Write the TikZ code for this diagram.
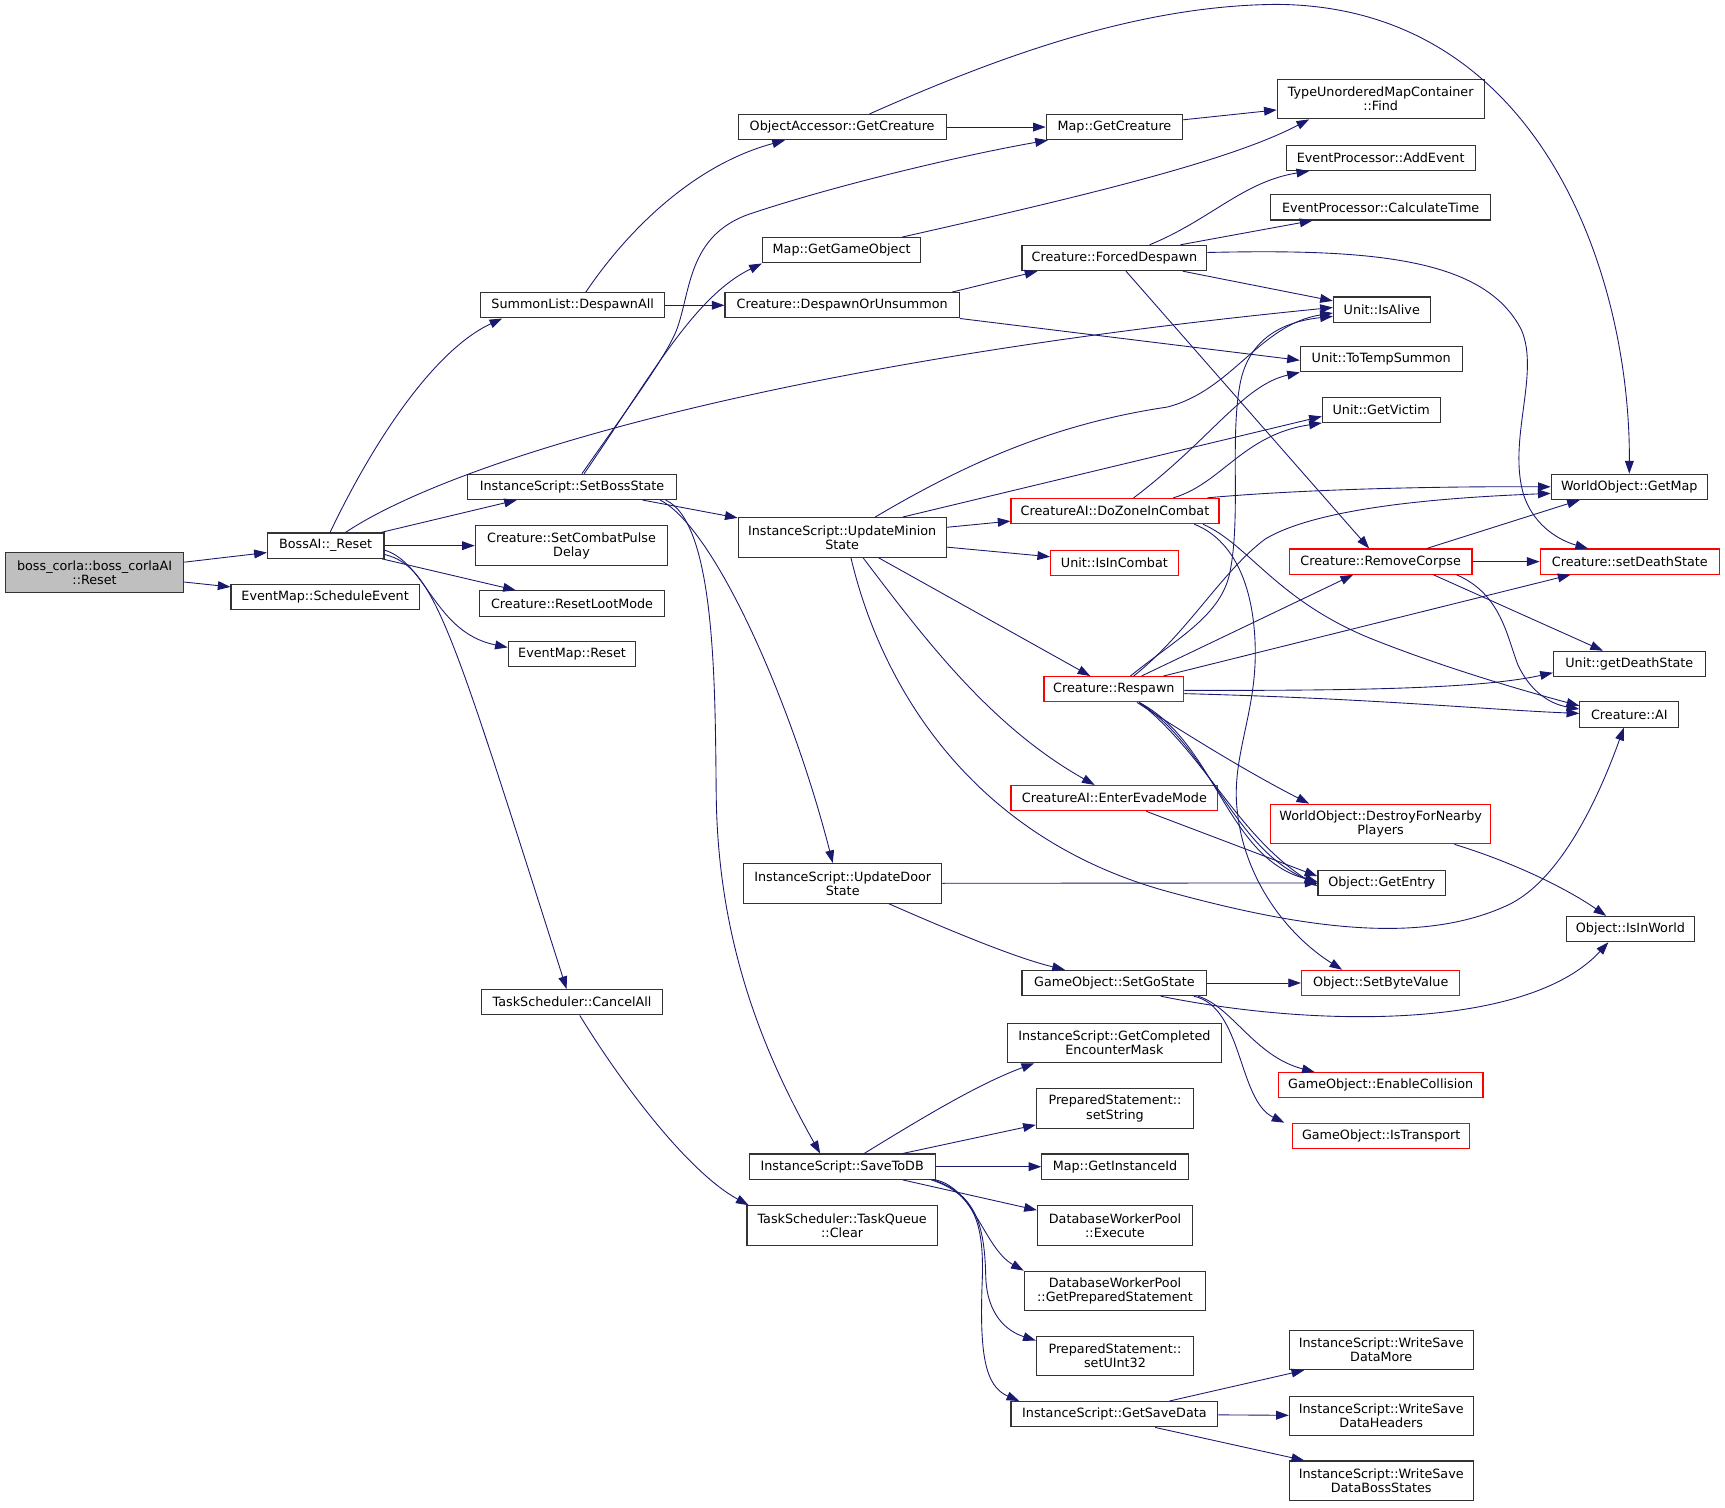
\documentclass[tikz,border=0pt]{standalone}
\usepackage{fontspec}
\newfontfamily\dvsans{DejaVu Sans}
\usetikzlibrary{arrows.meta}
\definecolor{navy}{HTML}{191970}
\definecolor{hotred}{HTML}{FF0000}
\begin{document}
\begin{tikzpicture}[x=1pt,y=-1pt,
  >={Triangle[length=11.5pt,width=8pt]},
  fn/.style={draw=black!80,line width=1pt,fill=white,inner sep=0pt,minimum height=23pt,
    align=center,font=\dvsans\fontsize{11.6}{13}\selectfont},
  fntwo/.style={fn,minimum height=36pt},
  hot/.style={draw=hotred},
  root/.style={fill=black!25},
  call/.style={->,draw=navy,line width=0.8pt}]
\useasboundingbox (0,0) rectangle (1568,1370);

% column 0 and 1
\node[fntwo,root,minimum width=162pt] (boss) at (86,520.5) {boss\_corla::boss\_corlaAI\\::Reset};
\node[fn,minimum width=106pt] (bossreset) at (296,496) {BossAI::\_Reset};
\node[fn,minimum width=171pt] (schedev) at (295.5,542.5) {EventMap::ScheduleEvent};
% column 2
\node[fn,minimum width=167pt] (despawnall) at (520.5,277.5) {SummonList::DespawnAll};
\node[fn,minimum width=190pt] (setboss) at (520,442.5) {InstanceScript::SetBossState};
\node[fntwo,minimum width=175pt] (combatpulse) at (519.5,496) {Creature::SetCombatPulse\\Delay};
\node[fn,minimum width=168pt] (lootmode) at (520,548.5) {Creature::ResetLootMode};
\node[fn,minimum width=116pt] (emreset) at (520,594.5) {EventMap::Reset};
\node[fn,minimum width=164pt] (cancelall) at (520,911) {TaskScheduler::CancelAll};
% column 3
\node[fn,minimum width=189pt] (objgetcreature) at (765.5,115.5) {ObjectAccessor::GetCreature};
\node[fn,minimum width=144pt] (getgameobject) at (765,227.5) {Map::GetGameObject};
\node[fn,minimum width=213pt] (despawnorunsummon) at (765.5,277.5) {Creature::DespawnOrUnsummon};
\node[fntwo,minimum width=189pt] (updminion) at (765.5,488.5) {InstanceScript::UpdateMinion\\State};
\node[fntwo,minimum width=180pt] (upddoor) at (766,803) {InstanceScript::UpdateDoor\\State};
\node[fn,minimum width=169pt] (savetodb) at (765.5,1060.5) {InstanceScript::SaveToDB};
\node[fntwo,minimum width=173pt] (taskqueueclear) at (765.5,1114) {TaskScheduler::TaskQueue\\::Clear};
% column 4
\node[fn,minimum width=124pt] (mapgetcreature) at (1013,115.5) {Map::GetCreature};
\node[fn,minimum width=168pt] (forceddespawn) at (1013,234.5) {Creature::ForcedDespawn};
\node[fn,hot,minimum width=189pt] (dozone) at (1013.5,464.5) {CreatureAI::DoZoneInCombat};
\node[fn,hot,minimum width=116pt] (isincombat) at (1013,511.5) {Unit::IsInCombat};
\node[fn,hot,minimum width=127pt] (respawn) at (1012.5,626.5) {Creature::Respawn};
\node[fn,hot,minimum width=188pt] (enterevade) at (1013,725.5) {CreatureAI::EnterEvadeMode};
\node[fn,minimum width=168pt] (setgostate) at (1013,893.5) {GameObject::SetGoState};
\node[fntwo,minimum width=194pt] (getcompleted) at (1013,948) {InstanceScript::GetCompleted\\EncounterMask};
\node[fntwo,minimum width=143pt] (setstring) at (1013.5,1007.5) {PreparedStatement::\\setString};
\node[fn,minimum width=133pt] (getinstanceid) at (1013.5,1060.5) {Map::GetInstanceId};
\node[fntwo,minimum width=141pt] (dbexecute) at (1013.5,1114) {DatabaseWorkerPool\\::Execute};
\node[fntwo,minimum width=165pt] (getprepared) at (1013.5,1173.5) {DatabaseWorkerPool\\::GetPreparedStatement};
\node[fntwo,minimum width=143pt] (setuint32) at (1013.5,1232.5) {PreparedStatement::\\setUInt32};
\node[fn,minimum width=188pt] (getsavedata) at (1013,1285.5) {InstanceScript::GetSaveData};
% column 5
\node[fntwo,minimum width=188pt] (typefind) at (1255,90) {TypeUnorderedMapContainer\\::Find};
\node[fn,minimum width=172pt] (addevent) at (1255,143.5) {EventProcessor::AddEvent};
\node[fn,minimum width=200pt] (calctime) at (1255,188.5) {EventProcessor::CalculateTime};
\node[fn,minimum width=88pt] (isalive) at (1256,281.5) {Unit::IsAlive};
\node[fn,minimum width=147pt] (totempsummon) at (1255.5,326.5) {Unit::ToTempSummon};
\node[fn,minimum width=107pt] (getvictim) at (1255.5,372.5) {Unit::GetVictim};
\node[fn,hot,minimum width=166pt] (removecorpse) at (1255,510.5) {Creature::RemoveCorpse};
\node[fntwo,hot,minimum width=200pt] (destroynearby) at (1255,749) {WorldObject::DestroyForNearby\\Players};
\node[fn,minimum width=116pt] (getentry) at (1256,802.5) {Object::GetEntry};
\node[fn,hot,minimum width=144pt] (setbytevalue) at (1255,893.5) {Object::SetByteValue};
\node[fn,hot,minimum width=186pt] (enablecollision) at (1255,986.5) {GameObject::EnableCollision};
\node[fn,hot,minimum width=161pt] (istransport) at (1255.5,1032.5) {GameObject::IsTransport};
\node[fntwo,minimum width=167pt] (wsmore) at (1255.5,1227) {InstanceScript::WriteSave\\DataMore};
\node[fntwo,minimum width=167pt] (wsheaders) at (1255.5,1287) {InstanceScript::WriteSave\\DataHeaders};
\node[fntwo,minimum width=167pt] (wsboss) at (1255.5,1346) {InstanceScript::WriteSave\\DataBossStates};
% column 6
\node[fn,minimum width=142pt] (getmap) at (1481,442.5) {WorldObject::GetMap};
\node[fn,hot,minimum width=163pt] (setdeathstate) at (1481.5,510.5) {Creature::setDeathState};
\node[fn,minimum width=138pt] (getdeathstate) at (1481,603.5) {Unit::getDeathState};
\node[fn,minimum width=90pt] (creatureai) at (1481,649.5) {Creature::AI};
\node[fn,minimum width=116pt] (isinworld) at (1482,844.5) {Object::IsInWorld};

% calls out of the root and BossAI::_Reset
\draw[call] (boss) -- (bossreset);
\draw[call] (boss) -- (schedev);
\draw[call] ([xshift=4pt]bossreset.north) .. controls (340,400) and (395,318) .. ([xshift=-64pt]despawnall.south);
\draw[call] ([xshift=18pt]bossreset.north) .. controls (410,420) and (700,330) .. ([yshift=2pt]isalive.west);
\draw[call] (bossreset) -- (setboss);
\draw[call] (bossreset) -- (combatpulse);
\draw[call] (bossreset) -- (lootmode);
\draw[call] ([yshift=-4pt]bossreset.east) .. controls (388,512) and (395,575) .. ([yshift=6pt]emreset.west);
\draw[call] ([yshift=-8pt]bossreset.east) .. controls (395,515) and (410,570) .. ([xshift=-5pt]cancelall.north);
\draw[call] ([xshift=7pt]cancelall.south) .. controls (565,985) and (625,1065) .. ([xshift=-85pt]taskqueueclear.north);

% SummonList and SetBossState
\draw[call] ([xshift=12pt]despawnall.north) .. controls (570,210) and (630,150) .. ([xshift=-52pt]objgetcreature.south);
\draw[call] (despawnall) -- (despawnorunsummon);
\draw[call] ([xshift=9pt]setboss.north) .. controls (570,372) and (605,325) .. (615,300)
  .. controls (628,265) and (625,215) .. (680,195) .. controls (760,168) and (880,140) .. ([xshift=2pt]mapgetcreature.south west);
\draw[call] ([xshift=11pt]setboss.north) .. controls (590,345) and (630,270) .. (getgameobject.south west);
\draw[call] (setboss) -- (updminion);
\draw[call] ([xshift=80pt]setboss.south) .. controls (650,480) and (720,640) .. ([xshift=-9pt]upddoor.north);
\draw[call] ([xshift=85pt]setboss.south) .. controls (650,475) and (650,620) .. (651,720)
  .. controls (652,850) and (690,950) .. ([xshift=-20pt]savetodb.north);

% creature lookups
\draw[call] ([xshift=100pt]despawnorunsummon.north) -- ([xshift=-70pt]forceddespawn.south);
\draw[call] (despawnorunsummon.south east) -- ([yshift=-1pt]totempsummon.west);
\draw[call] (objgetcreature) -- (mapgetcreature);
\draw[call] ([xshift=25pt]objgetcreature.north) .. controls (900,55) and (1030,5) .. (1160,4)
  .. controls (1400,5) and (1482,250) .. (getmap.north);
\draw[call] (mapgetcreature) -- (typefind);
\draw[call] ([xshift=55pt]getgameobject.north) .. controls (1000,175) and (1120,145) .. ([xshift=-65pt]typefind.south);

% ForcedDespawn
\draw[call] ([xshift=32pt]forceddespawn.north) .. controls (1100,200) and (1130,165) .. ([xshift=-65pt]addevent.south);
\draw[call] ([xshift=60pt]forceddespawn.north) -- ([xshift=-62pt]calctime.south);
\draw[call] ([xshift=62pt]forceddespawn.south) -- ([yshift=8pt]isalive.west);
\draw[call] ([yshift=5pt]forceddespawn.east) .. controls (1250,226) and (1350,235) .. (1383,300)
  .. controls (1400,340) and (1370,400) .. (1385,450) .. controls (1395,480) and (1420,492) .. ([xshift=-38pt]setdeathstate.north);
\draw[call] (forceddespawn) -- (removecorpse);

% UpdateMinionState
\draw[call] ([xshift=30pt]updminion.north) .. controls (880,420) and (960,385) .. (1061,370)
  .. controls (1120,355) and (1145,295) .. ([yshift=-3pt]isalive.west);
\draw[call] ([xshift=55pt]updminion.north) -- ([yshift=-6pt]getvictim.west);
\draw[call] (updminion) -- (dozone);
\draw[call] (updminion) -- (isincombat);
\draw[call] (updminion) -- (respawn);
\draw[call] ([xshift=19pt]updminion.south) .. controls (840,580) and (900,660) .. ([xshift=-18pt]enterevade.north);
\draw[call] ([xshift=8pt]updminion.south) .. controls (800,620) and (880,760) .. (1060,810)
  .. controls (1180,843) and (1290,860) .. (1370,823) .. controls (1420,800) and (1455,720) .. ([xshift=-5pt]creatureai.south);

% DoZoneInCombat
\draw[call] ([xshift=84pt]dozone.north) .. controls (1180,445) and (1300,442) .. (getmap.west);
\draw[call] ([xshift=17pt]dozone.north) .. controls (1100,400) and (1130,350) .. (totempsummon.south west);
\draw[call] ([xshift=53pt]dozone.north) .. controls (1110,440) and (1130,395) .. (getvictim.south west);
\draw[call] ([xshift=72pt]dozone.south) .. controls (1120,490) and (1140,530) .. (1141,590)
  .. controls (1142,650) and (1118,690) .. (1125,740) .. controls (1132,800) and (1170,850) .. ([xshift=-35pt]setbytevalue.north);
\draw[call] ([xshift=80pt]dozone.south) .. controls (1135,495) and (1160,545) .. (1245,580)
  .. controls (1320,610) and (1400,632) .. ([yshift=8pt]creatureai.west);

% Respawn
\draw[call] ([xshift=15pt]respawn.north) .. controls (1070,580) and (1110,560) .. (1118,520)
  .. controls (1128,470) and (1118,400) .. (1127,350) .. controls (1135,305) and (1170,292) .. ([yshift=-6pt]isalive.west);
\draw[call] ([xshift=18pt]respawn.north) .. controls (1080,575) and (1110,520) .. (1150,490)
  .. controls (1200,460) and (1320,452) .. ([yshift=-6pt]getmap.west);
\draw[call] (respawn) -- (removecorpse);
\draw[call] ([xshift=45pt]respawn.north) -- ([xshift=-54pt]setdeathstate.south);
\draw[call] ([yshift=-1pt]respawn.east) .. controls (1250,628) and (1350,625) .. ([yshift=-8pt]getdeathstate.west);
\draw[call] ([yshift=-4pt]respawn.east) .. controls (1250,635) and (1350,645) .. ([yshift=1pt]creatureai.west);
\draw[call] ([xshift=21pt]respawn.south) .. controls (1090,675) and (1140,705) .. ([xshift=-65pt]destroynearby.north);
\foreach \c/\d in {0/-1,-5/-3,5/1} % the bundle into GetEntry
  \draw[call] ([xshift=23pt]respawn.south) .. controls (1100+\c,680-\c) and (1120-\c,770+2*\c) .. ([yshift=\d pt]getentry.west);

% RemoveCorpse
\draw[call] ([xshift=42pt]removecorpse.north) -- ([xshift=-45pt]getmap.south);
\draw[call] (removecorpse) -- (setdeathstate);
\draw[call] ([xshift=48pt]removecorpse.south) -- ([xshift=-24pt]getdeathstate.north);
\draw[call] ([xshift=69pt]removecorpse.south) .. controls (1365,540) and (1370,580) .. (1380,605)
  .. controls (1392,630) and (1410,640) .. ([yshift=5pt]creatureai.west);

% doors and game objects
\draw[call] ([xshift=29pt]enterevade.south) -- ([yshift=6pt]getentry.west);
\draw[call] (upddoor) -- (getentry);
\draw[call] ([xshift=42pt]upddoor.south) .. controls (850,840) and (920,870) .. ([xshift=-45pt]setgostate.north);
\draw[call] ([xshift=67pt]destroynearby.south) .. controls (1370,782) and (1420,805) .. ([xshift=-22pt]isinworld.north);
\draw[call] (setgostate) -- (setbytevalue);
\draw[call] ([xshift=42pt]setgostate.south) .. controls (1200,935) and (1390,935) .. ([xshift=-20pt]isinworld.south);
\draw[call] ([xshift=76pt]setgostate.south) .. controls (1120,915) and (1140,960) .. ([xshift=-60pt]enablecollision.north);
\draw[call] ([xshift=72pt]setgostate.south) .. controls (1130,915) and (1125,1000) .. ([xshift=-88pt]istransport.north);

% SaveToDB
\draw[call] ([xshift=20pt]savetodb.north) .. controls (840,1015) and (890,985) .. ([xshift=-73pt]getcompleted.south);
\draw[call] ([xshift=55pt]savetodb.north) -- ([yshift=-15pt]setstring.west);
\draw[call] (savetodb) -- (getinstanceid);
\draw[call] ([xshift=55pt]savetodb.south) -- ([yshift=14pt]dbexecute.west);
\draw[call] (savetodb.south east) .. controls (885,1080) and (895,1135) .. (getprepared.north west);
\draw[call] ([xshift=-2pt]savetodb.south east) .. controls (885,1085) and (895,1110) .. (896,1160)
  .. controls (897,1195) and (915,1210) .. ([yshift=14pt]setuint32.west);
\draw[call] ([xshift=-4pt]savetodb.south east) .. controls (885,1085) and (894,1110) .. (893,1160)
  .. controls (890,1230) and (895,1260) .. ([xshift=8pt]getsavedata.north west);
\draw[call] ([xshift=50pt]getsavedata.north) -- ([xshift=-70pt]wsmore.south);
\draw[call] (getsavedata) -- (wsheaders);
\draw[call] ([xshift=37pt]getsavedata.south) -- ([xshift=-70pt]wsboss.north);

\end{tikzpicture}
\end{document}
